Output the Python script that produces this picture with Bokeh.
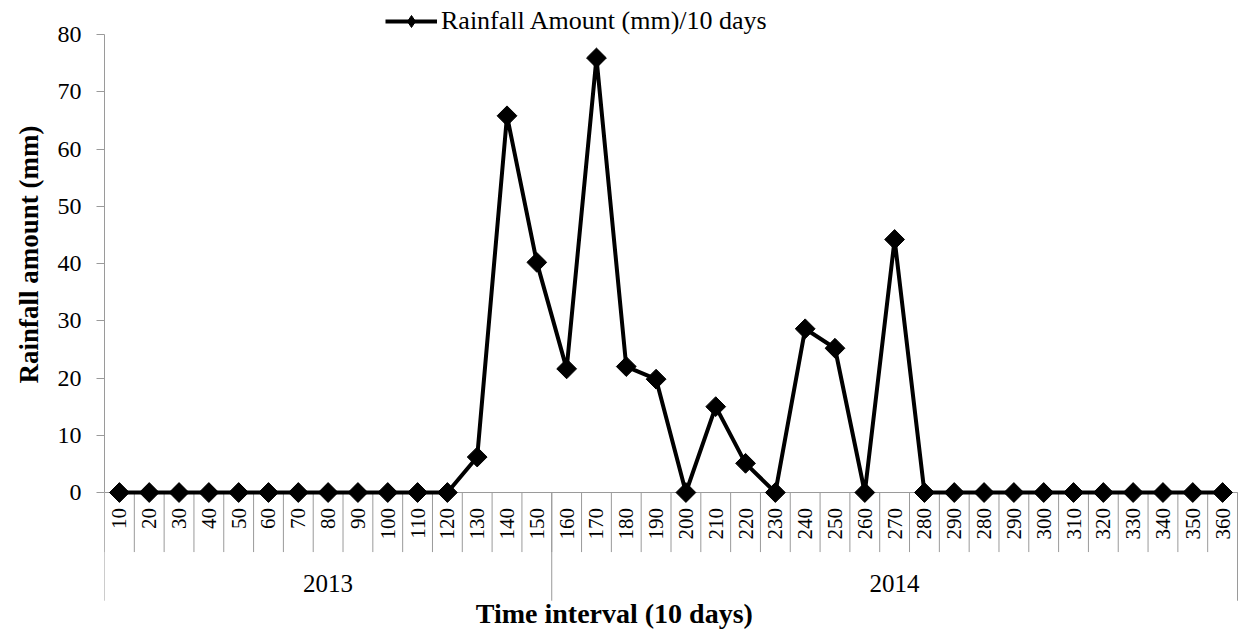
import numpy as np
from math import pi
from bokeh.plotting import figure
from bokeh.models import Range1d, Legend, LegendItem, FixedTicker, Title
from bokeh.core.properties import value
from bokeh.embed import file_html
from bokeh.resources import INLINE

# ---------------- data ----------------
categories = ["10", "20", "30", "40", "50", "60", "70", "80", "90", "100",
              "110", "120", "130", "140", "150", "160", "170", "180", "190", "200",
              "210", "220", "230", "240", "250", "260", "270", "280", "290", "280",
              "290", "300", "310", "320", "330", "340", "350", "360"]
rainfall = [0, 0, 0, 0, 0, 0, 0, 0, 0, 0,
            0, 0, 6.2, 65.8, 40.2, 21.6, 75.9, 22.0, 19.8, 0,
            15.0, 5.1, 0, 28.6, 25.2, 0, 44.2, 0, 0, 0,
            0, 0, 0, 0, 0, 0, 0, 0]
years = ["2013", "2014"]
year_counts = [15, 23]
y_ticks = [0, 10, 20, 30, 40, 50, 60, 70, 80]
series_name = "Rainfall Amount (mm)/10 days"
x_title = "Time interval (10 days)"
y_title = "Rainfall  amount (mm)"

# ---------------- style ----------------
FONT = "Liberation Serif"
GRAY = "#9a9a9a"
CAT_LABEL_Y = -2.7      # top of rotated category labels
CAT_SEP_Y = -10.4       # bottom of category separators
GROUP_SEP_Y = -18.9     # bottom of group separators
YEAR_LABEL_Y = -15.9
X_TITLE_Y = -21.1
X_TITLE_X = 16.6

n = len(categories)
xs = list(range(n))

p = figure(width=1239, height=630, output_backend="svg", toolbar_location=None,
           x_range=Range1d(-0.5, n - 0.5 + 0.067), y_range=Range1d(-24.1, 85.94),
           x_axis_location=None,
           min_border_left=104, min_border_right=0, min_border_top=0, min_border_bottom=0)
p.outline_line_color = None
p.grid.visible = False
p.background_fill_color = "white"
p.border_fill_color = "white"

yax = p.yaxis[0]
yax.bounds = (0, 80)
yax.ticker = FixedTicker(ticks=y_ticks)
yax.minor_tick_line_color = None
yax.major_tick_in = 0
yax.major_tick_out = 8
yax.axis_line_color = GRAY
yax.major_tick_line_color = GRAY
yax.major_label_text_font = FONT
yax.major_label_text_font_size = "24px"
yax.major_label_text_color = "black"
yax.major_label_standoff = 15

# y-axis title, placed so it is centred on the 0-80 span of the axis
ytitle = Title(text=y_title, align="left", offset=247, standoff=22,
               vertical_align="bottom",
               text_font=FONT, text_font_style="bold", text_font_size="27px",
               text_color="black")
p.add_layout(ytitle, "left")

# category axis (drawn manually: two-level Excel-style axis)
sep_x = np.arange(n + 1) - 0.5
p.segment(x0=sep_x, y0=0, x1=sep_x, y1=CAT_SEP_Y, line_color=GRAY, line_width=1)
bounds = np.concatenate([[0], np.cumsum(year_counts)]) - 0.5
p.segment(x0=bounds, y0=0, x1=bounds, y1=GROUP_SEP_Y, line_color=GRAY, line_width=1)
p.segment(x0=[-0.5], y0=[0], x1=[n - 0.5], y1=[0], line_color=GRAY, line_width=1)

p.text(x=xs, y=[CAT_LABEL_Y] * n, text=categories, angle=pi / 2,
       text_align="right", text_baseline="middle",
       text_font=value(FONT), text_font_size="21px", text_color="black")

starts = np.concatenate([[0], np.cumsum(year_counts)[:-1]])
year_x = [s + (c - 1) / 2 for s, c in zip(starts, year_counts)]
p.text(x=year_x, y=[YEAR_LABEL_Y] * len(years), text=years,
       text_align="center", text_baseline="middle",
       text_font=value(FONT), text_font_size="25px", text_color="black")

p.text(x=[X_TITLE_X], y=[X_TITLE_Y], text=[x_title],
       text_align="center", text_baseline="middle",
       text_font=value(FONT), text_font_size="28px", text_font_style="bold",
       text_color="black")

# series
line_r = p.line(xs, rainfall, line_width=4, line_color="black")
# diamond swatch for the legend (hidden under the square markers)
legend_mark = p.scatter(xs[:1], rainfall[:1], marker="diamond", size=14,
                        fill_color="black", line_color="black")
mark_r = p.scatter(xs, rainfall, marker="square", angle=pi / 4, size=14,
                   fill_color="black", line_color="black")

legend = Legend(items=[LegendItem(label=series_name, renderers=[line_r, legend_mark])],
                location=(281, 594), orientation="horizontal")
legend.label_text_font = FONT
legend.label_text_font_size = "26px"
legend.label_text_color = "black"
legend.glyph_width = 52
legend.glyph_height = 30
legend.label_standoff = 4
legend.padding = 0
legend.margin = 0
legend.border_line_color = None
legend.background_fill_alpha = 0
p.add_layout(legend)

open("out.html", "w").write(file_html(p, INLINE))
